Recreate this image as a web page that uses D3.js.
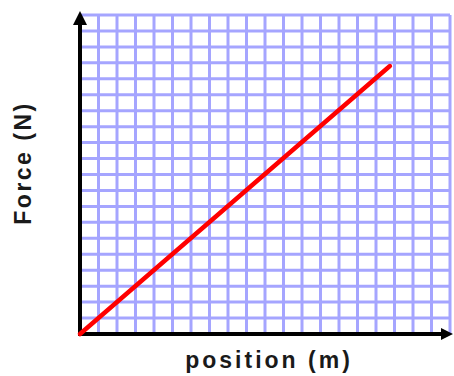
<!DOCTYPE html>
<html>
<head>
<meta charset="utf-8">
<script src="https://cdn.jsdelivr.net/npm/d3@7"></script>
<style>
html,body{margin:0;padding:0;background:#fff;}
svg{display:block;}
</style>
</head>
<body>
<svg id="chart" width="454" height="376"></svg>
<script>
// Data
const gridTicks = d3.range(0, 21);          // 20 x 20 grid cells
const linePositions = [0, 16.75];           // position (m)
const lineForces = [0, 16.8];               // force (N)
const xLabel = "position (m)";
const yLabel = "Force (N)";

const svg = d3.select("#chart");
const x = d3.scaleLinear().domain([0, 20]).range([80, 450]);
const y = d3.scaleLinear().domain([0, 20]).range([334, 15]);

// grid
const grid = svg.append("g");
grid.selectAll("line.v").data(gridTicks.slice(1)).join("line")
  .attr("x1", d => x(d)).attr("x2", d => x(d))
  .attr("y1", y(0)).attr("y2", y(20))
  .attr("stroke", "rgb(165,165,255)").attr("stroke-width", 3);
grid.selectAll("line.h").data(gridTicks.slice(1)).join("line")
  .attr("y1", d => y(d)).attr("y2", d => y(d))
  .attr("x1", x(0)).attr("x2", x(20))
  .attr("stroke", "rgb(165,165,255)").attr("stroke-width", 3);

// axes
svg.append("line").attr("x1", x(0)).attr("x2", x(0))
  .attr("y1", y(0) + 2).attr("y2", 22)
  .attr("stroke", "#000").attr("stroke-width", 4);
svg.append("path").attr("d", `M${x(0)},11 L${x(0) - 7},25 L${x(0) + 7},25 Z`).attr("fill", "#000");
svg.append("line").attr("x1", x(0) - 2).attr("x2", 444)
  .attr("y1", y(0)).attr("y2", y(0))
  .attr("stroke", "#000").attr("stroke-width", 4);
svg.append("path").attr("d", `M453,${y(0)} L441,${y(0) - 6} L441,${y(0) + 6} Z`).attr("fill", "#000");

// data line
const pts = linePositions.map((p, i) => [p, lineForces[i]]);
svg.append("path").datum(pts)
  .attr("d", d3.line().x(d => x(d[0])).y(d => y(d[1])))
  .attr("fill", "none").attr("stroke", "#ff0000").attr("stroke-width", 4.5)
  .attr("stroke-linecap", "round");

// labels
svg.append("text").attr("x", 269).attr("y", 368)
  .attr("text-anchor", "middle")
  .attr("font-family", "Liberation Sans, Arial, sans-serif")
  .attr("font-weight", "bold").attr("font-size", 23).attr("letter-spacing", 3)
  .attr("fill", "#1a1a1a").text(xLabel);
svg.append("text")
  .attr("transform", "translate(31,163) rotate(-90)")
  .attr("text-anchor", "middle")
  .attr("font-family", "Liberation Sans, Arial, sans-serif")
  .attr("font-weight", "bold").attr("font-size", 23).attr("letter-spacing", 2.5)
  .attr("fill", "#1a1a1a").text(yLabel);
</script>
</body>
</html>
